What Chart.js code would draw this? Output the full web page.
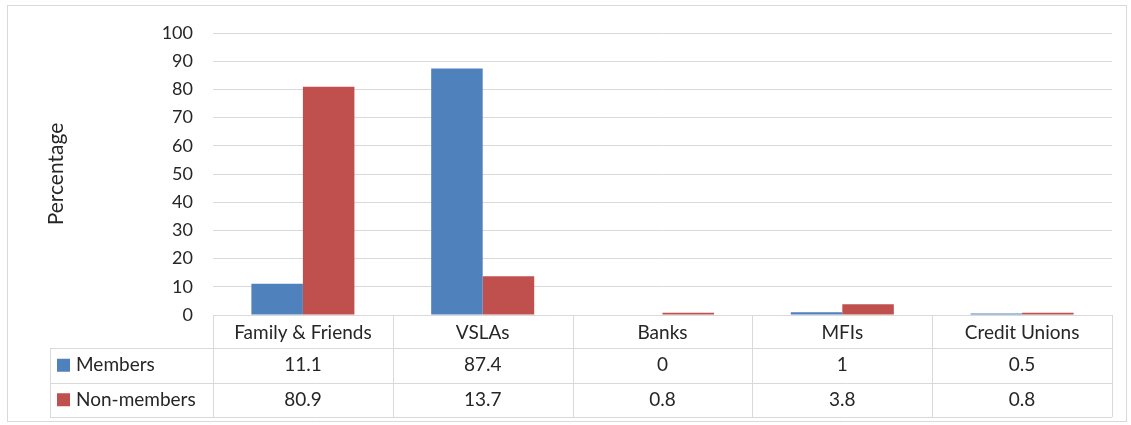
<!DOCTYPE html>
<html>
<head>
<meta charset="utf-8">
<script src="https://cdn.jsdelivr.net/npm/chart.js@4"></script>
<style>
  html, body { margin: 0; padding: 0; background: #fff; }
  #wrap { width: 1131px; height: 425px; }
</style>
</head>
<body>
<div id="wrap"><canvas id="chart" width="1131" height="425"></canvas></div>
<script>
// data
const categories = ['Family & Friends', 'VSLAs', 'Banks', 'MFIs', 'Credit Unions'];
const members = [11.1, 87.4, 0, 1, 0.5];
const nonMembers = [80.9, 13.7, 0.8, 3.8, 0.8];
const seriesNames = ['Members', 'Non-members'];
const yTicks = [0, 10, 20, 30, 40, 50, 60, 70, 80, 90, 100];

const FONT = 'Lato, "Open Sans", sans-serif';
const TEXT = '#262626';
const LINE = '#d9d9d9';
const COLORS = ['#4f81bd', '#c0504d'];

// draws the frame and the data table under the x axis
const tablePlugin = {
  id: 'dataTable',
  beforeDraw(chart) {
    const ctx = chart.ctx;
    ctx.save();
    ctx.strokeStyle = LINE;
    ctx.lineWidth = 1;
    ctx.strokeRect(7.5, 5.5, 1119, 416);
    ctx.restore();
  },
  afterDraw(chart) {
    const ctx = chart.ctx;
    const area = chart.chartArea;
    const x = chart.scales.x;
    const rows = [members, nonMembers];
    const headBottom = 348, rowH = 34.5;
    const tableBottom = headBottom + rowH * rows.length;
    const colW = (area.right - area.left) / categories.length;
    const leftX = 50;

    ctx.save();
    ctx.strokeStyle = LINE;
    ctx.lineWidth = 1;
    ctx.beginPath();
    // vertical lines
    for (let i = 0; i <= categories.length; i++) {
      const px = Math.round(area.left + i * colW) + 0.5;
      ctx.moveTo(px, area.bottom);
      ctx.lineTo(px, tableBottom);
    }
    ctx.moveTo(leftX + 0.5, headBottom);
    ctx.lineTo(leftX + 0.5, tableBottom);
    // horizontal lines
    for (let r = 0; r <= rows.length; r++) {
      const py = Math.round(headBottom + r * rowH) + 0.5;
      ctx.moveTo(leftX, py);
      ctx.lineTo(area.right, py);
    }
    ctx.stroke();

    ctx.font = '19px ' + FONT;
    ctx.fillStyle = TEXT;
    ctx.textBaseline = 'middle';
    rows.forEach((vals, r) => {
      const cy = headBottom + r * rowH + rowH / 2;
      // legend key + series name
      ctx.fillStyle = COLORS[r];
      ctx.fillRect(57, cy - 6.5, 13, 13);
      ctx.fillStyle = TEXT;
      ctx.textAlign = 'left';
      ctx.fillText(seriesNames[r], 76, cy);
      ctx.textAlign = 'center';
      vals.forEach((v, i) => {
        ctx.fillText(String(v), x.getPixelForValue(i), cy);
      });
    });
    ctx.restore();
  }
};

new Chart(document.getElementById('chart'), {
  type: 'bar',
  data: {
    labels: categories,
    datasets: [{
      label: seriesNames[0],
      data: members,
      backgroundColor: COLORS[0],
      categoryPercentage: 0.573,
      barPercentage: 1
    }, {
      label: seriesNames[1],
      data: nonMembers,
      backgroundColor: COLORS[1],
      categoryPercentage: 0.573,
      barPercentage: 1
    }]
  },
  options: {
    responsive: false,
    animation: false,
    layout: { padding: { top: 33, right: 19, left: 0, bottom: 0 } },
    plugins: {
      legend: { display: false },
      tooltip: { enabled: false }
    },
    scales: {
      x: {
        grid: { display: false, drawTicks: false },
        border: { color: LINE },
        ticks: { color: TEXT, font: { family: FONT, size: 19 }, padding: 6, maxRotation: 0 },
        afterFit(scale) { scale.height = 110; }
      },
      y: {
        min: 0,
        max: 100,
        afterBuildTicks(scale) { scale.ticks = yTicks.map(v => ({ value: v })); },
        grid: { color: LINE, drawTicks: false },
        border: { display: false },
        ticks: { color: TEXT, font: { family: FONT, size: 18 }, padding: 20 },
        title: {
          display: true,
          text: 'Percentage',
          color: TEXT,
          font: { family: FONT, size: 21 },
          padding: { top: 44, bottom: 0 }
        },
        afterFit(scale) { scale.width = 213; }
      }
    }
  },
  plugins: [tablePlugin]
});
</script>
</body>
</html>
